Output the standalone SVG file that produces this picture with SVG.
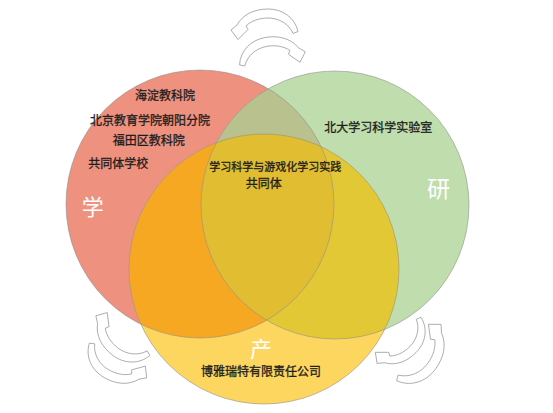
<svg xmlns="http://www.w3.org/2000/svg" xmlns:xlink="http://www.w3.org/1999/xlink" width="553" height="413" viewBox="0 0 553 413">
<style>
.lbl{font-family:"Noto Sans CJK SC","Noto Sans",sans-serif;font-size:12px;fill:#1e1e1e;stroke:#1e1e1e;stroke-width:0.3}
.big{font-family:"Noto Sans CJK SC","Noto Sans",sans-serif;font-size:22px;fill:#ffffff}
.ring{fill:none;stroke:#8c8c8c;stroke-width:0.8;stroke-opacity:0.7}
.arrow{fill:#ffffff;stroke:#8a8a8a;stroke-width:0.7;stroke-linejoin:round}
</style>
<defs>
<clipPath id="clipR"><circle cx="200" cy="204" r="134"/></clipPath>
<clipPath id="clipG"><circle cx="335" cy="205" r="134"/></clipPath>
<path id="carrow" class="arrow" vector-effect="non-scaling-stroke" d="M 31 0.5 C 28 -13 16 -22 1 -22 C -12 -22 -24 -17 -30 -6 L -36 -1 L -29 8.5 L -19 -1.5 L -21 -5 C -16 -10 -8 -13 1 -13 C 12 -13 22 -7 26 2.5 Z"/>
</defs>
<rect width="553" height="413" fill="#ffffff"/>
<g id="fills">
<circle cx="200" cy="204" r="134" fill="#EE917E"/>
<circle cx="335" cy="205" r="134" fill="#BFDDAD"/>
<circle cx="264" cy="269" r="135" fill="#FDD660"/>
<g clip-path="url(#clipR)"><circle cx="335" cy="205" r="134" fill="#B9C18E"/></g>
<g clip-path="url(#clipR)"><circle cx="264" cy="269" r="135" fill="#F6A823"/></g>
<g clip-path="url(#clipG)"><circle cx="264" cy="269" r="135" fill="#E3C836"/></g>
<g clip-path="url(#clipR)"><g clip-path="url(#clipG)"><circle cx="264" cy="269" r="135" fill="#E1BD32"/></g></g>
</g>
<g id="node-xue">
<circle class="ring" cx="200" cy="204" r="134"/>
<text class="lbl" x="135" y="100">海淀教科院</text>
<text class="lbl" x="90" y="125">北京教育学院朝阳分院</text>
<text class="lbl" x="112.7" y="145">福田区教科院</text>
<text class="lbl" x="88.3" y="168.4">共同体学校</text>
<text class="big" x="81.7" y="215">学</text>
</g>
<g id="node-yan">
<circle class="ring" cx="335" cy="205" r="134"/>
<text class="lbl" x="324.3" y="131.8">北大学习科学实验室</text>
<text class="big" x="427" y="196.7" style="font-size:23px">研</text>
</g>
<g id="node-chan">
<circle class="ring" cx="264" cy="269" r="135"/>
<text class="lbl" x="201" y="376.3">博雅瑞特有限责任公司</text>
<text class="big" x="250" y="356.7">产</text>
</g>
<g id="node-center">
<text class="lbl" x="209.3" y="170.9" style="font-size:11px">学习科学与游戏化学习实践</text>
<text class="lbl" x="245.7" y="187.9">共同体</text>
</g>
<g id="connectors">
<use xlink:href="#carrow" transform="translate(267,31)"/>
<use xlink:href="#carrow" transform="translate(270,59) rotate(-10) scale(-1,1)"/>
<use xlink:href="#carrow" transform="translate(116,359) rotate(-150)"/>
<use xlink:href="#carrow" transform="translate(125,337) rotate(37.6) scale(1,-1)"/>
<use xlink:href="#carrow" transform="translate(400.5,338.5) rotate(-45.2) scale(0.95,-0.95)"/>
<use xlink:href="#carrow" transform="translate(417,354.5) rotate(127) scale(1.07)"/>
</g>
</svg>
